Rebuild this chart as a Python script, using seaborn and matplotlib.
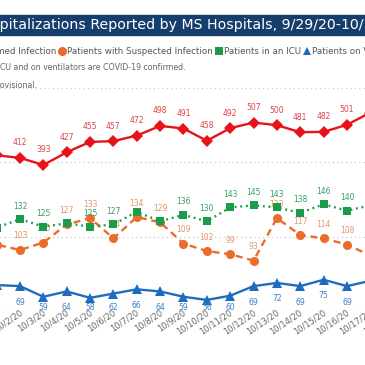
import matplotlib
matplotlib.use("Agg")
import matplotlib.pyplot as plt
import matplotlib.lines as mlines
import matplotlib.transforms as mtransforms
from matplotlib.patches import Rectangle
import seaborn as sns
import numpy as np

# values (10/1/20 .. 10/17/20)
dates = ["10/1/20", "10/2/20", "10/3/20", "10/4/20", "10/5/20", "10/6/20",
         "10/7/20", "10/8/20", "10/9/20", "10/10/20", "10/11/20", "10/12/20",
         "10/13/20", "10/14/20", "10/15/20", "10/16/20", "10/17/20"]
tick_labels = dates + ["10/18/20"]
confirmed = [419, 412, 393, 427, 455, 457, 472, 498, 491, 458, 492, 507, 500, 481, 482, 501, 534]
suspected = [108, 103, 110, 127, 133, 114, 134, 129, 109, 102, 99, 93, 133, 117, 114, 108, 98]
icu = [124, 132, 125, 128, 125, 127, 139, 130, 136, 130, 143, 145, 143, 138, 146, 140, 145]
ventilator = [70, 69, 59, 64, 58, 62, 66, 64, 59, 56, 60, 69, 72, 69, 75, 69, 74]
icu_hidden = [3, 6, 7]  # labels Power BI dropped

title = "COVID-19 Hospitalizations Reported by MS Hospitals, 9/29/20-10/18/20"
legend_labels = ["Patients with Confirmed Infection", "Patients with Suspected Infection",
                 "Patients in an ICU", "Patients on Ventilators"]
note1 = "Note: Patients in an ICU and on ventilators are COVID-19 confirmed."
note2 = "Data are provisional."

RED, ORANGE, GREEN, BLUE = "#E8121B", "#EA6B2C", "#1C9B4B", "#1F6CBF"
RED_T, ORANGE_T, GREEN_T, BLUE_T = "#DC4148", "#E8936A", "#36A160", "#3C7EC6"

sns.set_style("white")
plt.rcParams["font.family"] = ["DejaVu Sans"]

W = H = 365
fig = plt.figure(figsize=(3.65, 3.65), dpi=100)
renderer = fig.canvas.get_renderer()


def width_px(s, size):
    t = fig.text(0, 0, s, fontsize=size)
    w = t.get_window_extent(renderer).width
    t.remove()
    return w


def fit_size(s, target):
    return 10 * target / width_px(s, 10)


def fy(py):
    return (H - py) / H


# plot area: 0 gridline at y=311 px, top gridline at y=88 px
ax = fig.add_axes([0, fy(311), 1, (311 - 88) / H])
ax2 = ax.twinx()
x = np.arange(len(dates))

sns.lineplot(x=x, y=confirmed, ax=ax, color=RED, marker="D", markersize=6,
             linewidth=1.7, markeredgewidth=0)
sns.lineplot(x=x, y=ventilator, ax=ax2, color=BLUE, marker="^", markersize=6.5,
             linewidth=1.7, markeredgewidth=0)
sns.lineplot(x=x, y=suspected, ax=ax2, color=ORANGE, marker="o", markersize=6.5,
             linewidth=1.7, markeredgewidth=0, linestyle=(0, (3, 2)))
sns.lineplot(x=x, y=icu, ax=ax2, color=GREEN, marker="s", markersize=5.3,
             linewidth=1.7, markeredgewidth=0, linestyle=(0, (0.8, 1.6)))

# date labels drawn as text so they can sit a little inside the plot bottom
ax.set_xticks(range(len(tick_labels)))
ax.set_xticklabels([])
shift = mtransforms.ScaledTranslation(-1 / 100, 3 / 100, fig.dpi_scale_trans)
for i, lab in enumerate(tick_labels):
    ax.text(i, 0, lab, transform=ax.get_xaxis_transform() + shift,
            rotation=34, rotation_mode="anchor", ha="right", va="top",
            fontsize=6, color="#666666", clip_on=False)

ax.set_yticks([0, 200, 400, 600])
ax.set_yticklabels([])
ax.grid(axis="y", color="#cccccc", linestyle=(0, (1, 2.5)), linewidth=0.9)
ax.grid(axis="x", visible=False)
ax2.set_yticks([])
ax2.grid(False)
for a in (ax, ax2):
    for sp in a.spines.values():
        sp.set_visible(False)
    a.tick_params(length=0)
    a.set_xlabel("")
    a.set_ylabel("")

# limits last: set_xticks would widen the view otherwise
ax.set_xlim(0.144, 15.771)
ax.set_ylim(0, 600)
ax2.set_ylim(45.6, 255.4)


def add_labels(axis, values, color, dy, skip=(), z=4):
    for i, v in enumerate(values):
        if i in skip:
            continue
        off = dy
        if dy < 0:
            disp_y = axis.transData.transform((i, v))[1]
            off = -min(-dy, disp_y - fy(308) * H)
        axis.annotate(str(v), (i, v), xytext=(0, off), textcoords="offset pixels",
                      ha="center", va="center", fontsize=5.5, color=color, zorder=z)


add_labels(ax, confirmed, RED_T, 15)
add_labels(ax2, ventilator, BLUE_T, -16)
add_labels(ax2, suspected, ORANGE_T, 14, z=1.5)
add_labels(ax2, icu, GREEN_T, 13, skip=icu_hidden)

# title bar
fig.patches.append(Rectangle((0, fy(35)), 1, 20 / H, transform=fig.transFigure,
                             color="#163E6C", zorder=0))
t_size = fit_size("pitalizations Reported by MS Hospitals, 9/29/20-10/", 362)
fig.text(-width_px("COVID-19 Hos", t_size) / W, fy(25), title, fontsize=t_size,
         color="white", ha="left", va="center")

# legend row
l_size = fit_size(legend_labels[1], 146)
markers = ["D", "o", "s", "^"]
colors = [RED, ORANGE, GREEN, BLUE]
msizes = [5, 6.5, 5.5, 6]
anchor = 62  # orange marker position
pos = [None] * 4
pos[1] = anchor
for i in range(2, 4):
    pos[i] = pos[i - 1] + 5 + width_px(legend_labels[i - 1], l_size) + 6
pos[0] = anchor - 6 - width_px(legend_labels[0], l_size) - 5
for i in range(4):
    fig.add_artist(mlines.Line2D([pos[i] / W], [fy(51)], marker=markers[i], color=colors[i],
                                 markersize=msizes[i], markeredgewidth=0,
                                 linestyle="none", transform=fig.transFigure))
    fig.text((pos[i] + 5) / W, fy(51), legend_labels[i], fontsize=l_size,
             color="#555555", ha="left", va="center")

# notes
n_size = fit_size("CU and on ventilators are COVID-19 confirmed.", 186)
fig.text(-width_px("Note: Patients in an I", n_size) / W, fy(68), note1,
         fontsize=n_size, color="#666666", ha="left", va="center")
fig.text(-width_px("Data are pr", n_size) / W, fy(85), note2,
         fontsize=n_size, color="#666666", ha="left", va="center")

fig.savefig("out.png", dpi=100)
